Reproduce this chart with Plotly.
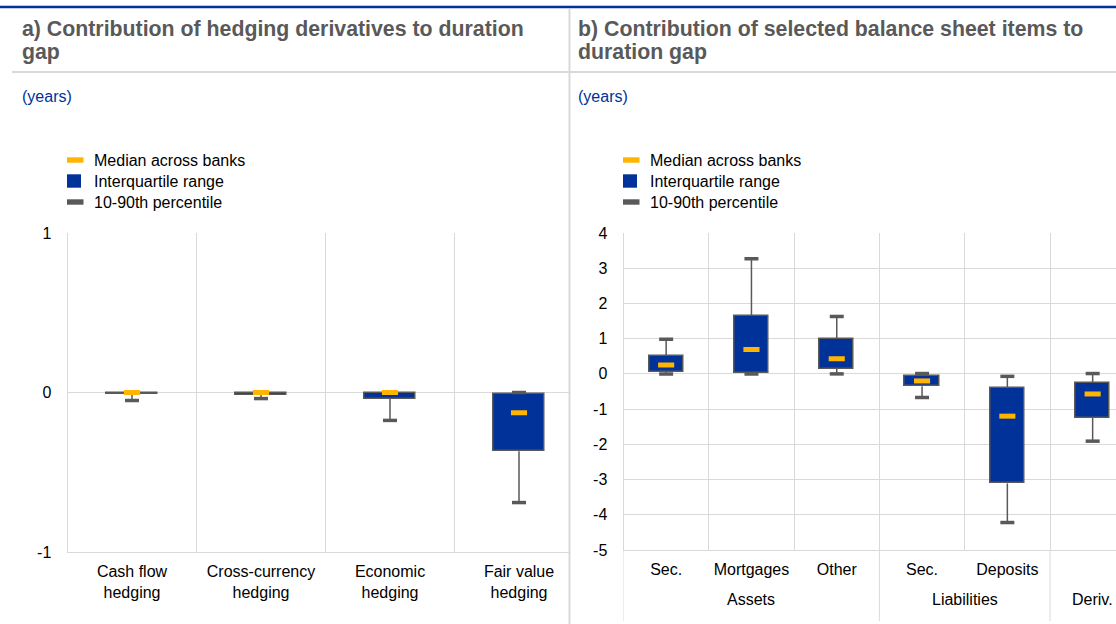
import plotly.graph_objects as go

# ---------------- data ----------------
# Panel a: contribution of hedging derivatives to duration gap (years)
a_categories = ["Cash flow<br>hedging", "Cross-currency<br>hedging", "Economic<br>hedging", "Fair value<br>hedging"]
a_p10 = [-0.05, -0.038, -0.175, -0.69]
a_q1 = [-0.008, -0.013, -0.038, -0.368]
a_median = [0.0, 0.0, 0.0, -0.127]
a_q3 = [0.0, 0.0, 0.0, -0.008]
a_p90 = [0.0, 0.0, 0.0, 0.0]
a_ytick_vals = [-1, 0, 1]
a_ytick_text = ["-1", "0", "1"]

# Panel b: contribution of selected balance sheet items to duration gap (years)
b_groups = ["Assets", "Assets", "Assets", "Liabilities", "Liabilities", "Deriv."]
b_items = ["Sec.", "Mortgages", "Other", "Sec.", "Deposits", ""]
b_p10 = [0.0, 0.0, 0.0, -0.67, -4.22, -1.91]
b_q1 = [0.057, 0.03, 0.14, -0.35, -3.11, -1.25]
b_median = [0.255, 0.69, 0.43, -0.2, -1.2, -0.57]
b_q3 = [0.52, 1.65, 1.0, -0.06, -0.41, -0.26]
b_p90 = [0.98, 3.27, 1.63, 0.01, -0.07, 0.01]
b_ytick_vals = [-5, -4, -3, -2, -1, 0, 1, 2, 3, 4]
b_ytick_text = ["-5", "-4", "-3", "-2", "-1", "0", "1", "2", "3", "4"]

legend_labels = ["Median across banks", "Interquartile range", "10-90th percentile"]

# ---------------- style ----------------
W, H = 1116, 624
BLUE = "#003299"
YELLOW = "#FFB400"
GREY = "#595959"
GRID = "#d9d9d9"
FONT = "Liberation Sans, Arial, sans-serif"


def px_x(px):
    return px / W


def px_y(py):
    return 1 - py / H


fig = go.Figure()


def add_panel(x, p10, q1, med, q3, p90, xa, ya):
    # interquartile box
    fig.add_trace(go.Bar(
        x=x, y=[b - a for a, b in zip(q1, q3)], base=q1, width=0.4,
        marker=dict(color=BLUE, line=dict(color=GREY, width=1.5)),
        xaxis=xa, yaxis=ya, showlegend=False, hoverinfo="skip"))
    # whisker stems (upper: q3 -> p90, lower: p10 -> q1)
    fig.add_trace(go.Scatter(
        x=x, y=q3, mode="markers", marker=dict(size=1, color="rgba(0,0,0,0)"),
        error_y=dict(type="data", symmetric=False,
                     array=[max(b - a, 0) for a, b in zip(q3, p90)],
                     arrayminus=[0] * len(q3), width=0, thickness=1.5, color=GREY),
        xaxis=xa, yaxis=ya, showlegend=False, hoverinfo="skip"))
    fig.add_trace(go.Scatter(
        x=x, y=q1, mode="markers", marker=dict(size=1, color="rgba(0,0,0,0)"),
        error_y=dict(type="data", symmetric=False,
                     array=[0] * len(q1),
                     arrayminus=[max(a - b, 0) for a, b in zip(q1, p10)], width=0, thickness=1.5, color=GREY),
        xaxis=xa, yaxis=ya, showlegend=False, hoverinfo="skip"))
    # whisker caps
    for vals in (p10, p90):
        fig.add_trace(go.Scatter(
            x=x, y=vals, mode="markers",
            marker=dict(symbol="line-ew", size=10, color=GREY, line=dict(color=GREY, width=3.5)),
            xaxis=xa, yaxis=ya, showlegend=False, hoverinfo="skip"))
    # median
    fig.add_trace(go.Scatter(
        x=x, y=med, mode="markers",
        marker=dict(symbol="line-ew", size=11.5, color=YELLOW, line=dict(color=YELLOW, width=5)),
        xaxis=xa, yaxis=ya, showlegend=False, hoverinfo="skip"))


# unique category keys for panel b (items repeat across groups)
b_keys = [g + " / " + (i if i else g) for g, i in zip(b_groups, b_items)]

add_panel(a_categories, a_p10, a_q1, a_median, a_q3, a_p90, "x", "y")
add_panel(b_keys, b_p10, b_q1, b_median, b_q3, b_p90, "x2", "y2")

tickfont = dict(family=FONT, size=16, color="#000000")

# panel geometry (pixels): plot left, clipped right edge, category width
a_left, a_right, a_cw = 67.5, 569.0, 129.0
b_left, b_right, b_cw = 623.5, 1116.0, 85.3

fig.update_layout(
    width=W, height=H,
    margin=dict(l=0, r=0, t=0, b=0, autoexpand=False),
    paper_bgcolor="white", plot_bgcolor="white",
    font=dict(family=FONT, size=16, color="#000000"),
    showlegend=False,
    bargap=0,
    xaxis=dict(
        domain=[px_x(a_left), px_x(a_right)], automargin=False,
        type="category", categoryorder="array", categoryarray=a_categories,
        range=[-0.5, -0.5 + (a_right - a_left) / a_cw],
        tickson="boundaries", showgrid=True, gridcolor=GRID, gridwidth=1,
        ticks="outside", ticklen=10, tickcolor="rgba(0,0,0,0)", ticklabelstandoff=5,
        showline=True, linecolor=GRID, linewidth=1,
        tickfont=tickfont,
        anchor="y"),
    yaxis=dict(
        domain=[px_y(552), px_y(233)], automargin=False,
        range=[-1, 1], tickmode="array", tickvals=a_ytick_vals, ticktext=a_ytick_text,
        showgrid=True, gridcolor=GRID, gridwidth=1,
        zeroline=True, zerolinecolor=GRID, zerolinewidth=1,
        showline=True, linecolor=GRID, linewidth=1,
        ticks="outside", ticklen=12, tickcolor="rgba(0,0,0,0)", tickfont=tickfont,
        anchor="x"),
    xaxis2=dict(
        domain=[px_x(b_left), px_x(b_right)], automargin=False,
        type="category", categoryorder="array", categoryarray=b_keys,
        tickmode="array", tickvals=b_keys, ticktext=b_items,
        range=[-0.5, -0.5 + (b_right - b_left) / b_cw],
        tickson="boundaries", showgrid=True, gridcolor=GRID, gridwidth=1,
        ticks="outside", ticklen=11, tickcolor="rgba(0,0,0,0)", ticklabelstandoff=5,
        showline=True, linecolor=GRID, linewidth=1,
        tickfont=tickfont,
        anchor="y2"),
    yaxis2=dict(
        domain=[px_y(550), px_y(233)], automargin=False,
        range=[-5, 4], tickmode="array", tickvals=b_ytick_vals, ticktext=b_ytick_text,
        showgrid=True, gridcolor=GRID, gridwidth=1,
        zeroline=True, zerolinecolor=GRID, zerolinewidth=1,
        showline=True, linecolor=GRID, linewidth=1,
        ticks="outside", ticklen=12, tickcolor="rgba(0,0,0,0)", tickfont=tickfont,
        anchor="x2"),
)

shapes = []
annotations = []

# frame lines
shapes.append(dict(type="line", xref="paper", yref="paper", x0=px_x(0), x1=1, y0=px_y(7), y1=px_y(7),
                   line=dict(color=BLUE, width=2.5)))
shapes.append(dict(type="line", xref="paper", yref="paper", x0=px_x(12), x1=1, y0=px_y(72), y1=px_y(72),
                   line=dict(color=GRID, width=2)))
shapes.append(dict(type="line", xref="paper", yref="paper", x0=px_x(569.5), x1=px_x(569.5), y0=px_y(9), y1=0,
                   line=dict(color=GRID, width=2)))

# group labels and dividers for panel b, derived from the group list
group_order = []
for g in b_groups:
    if g not in group_order:
        group_order.append(g)
for g in group_order:
    idx = [k for k, gg in enumerate(b_groups) if gg == g]
    centre = (idx[0] + idx[-1]) / 2
    annotations.append(dict(
        text=g, xref="x2", yref="paper", x=centre, y=px_y(599),
        xanchor="center", yanchor="middle", showarrow=False,
        font=dict(family=FONT, size=16, color="#000000")))
    shapes.append(dict(type="line", xref="x2", yref="paper",
                       x0=idx[0] - 0.5, x1=idx[0] - 0.5, y0=px_y(550), y1=px_y(621),
                       line=dict(color=GRID, width=1)))

titles = [
    (22, ["a) Contribution of hedging derivatives to duration", "gap"]),
    (578, ["b) Contribution of selected balance sheet items to", "duration gap"]),
]
for x0, lines in titles:
    for i, line in enumerate(lines):
        annotations.append(dict(
            text="<b>" + line + "</b>", xref="paper", yref="paper",
            x=px_x(x0 - 2), y=px_y(29 + 23 * i), xanchor="left", yanchor="middle",
            showarrow=False, font=dict(family=FONT, size=21.3, color=GREY)))
    annotations.append(dict(
        text="(years)", xref="paper", yref="paper",
        x=px_x(x0 - 2), y=px_y(96), xanchor="left", yanchor="middle",
        showarrow=False, font=dict(family=FONT, size=16, color=BLUE)))

# legends
for lx in (67, 623):
    shapes.append(dict(type="rect", xref="paper", yref="paper",
                       x0=px_x(lx), x1=px_x(lx + 16.5), y0=px_y(162.7), y1=px_y(157.3),
                       fillcolor=YELLOW, line=dict(width=0)))
    shapes.append(dict(type="rect", xref="paper", yref="paper",
                       x0=px_x(lx), x1=px_x(lx + 14), y0=px_y(187.7), y1=px_y(174.3),
                       fillcolor=BLUE, line=dict(width=0)))
    shapes.append(dict(type="rect", xref="paper", yref="paper",
                       x0=px_x(lx), x1=px_x(lx + 16.5), y0=px_y(204.7), y1=px_y(199.3),
                       fillcolor=GREY, line=dict(width=0)))
    for label, ly in zip(legend_labels, (160.5, 181.5, 202.5)):
        annotations.append(dict(
            text=label, xref="paper", yref="paper",
            x=px_x(lx + 25), y=px_y(ly), xanchor="left", yanchor="middle",
            showarrow=False, font=dict(family=FONT, size=16, color="#000000")))

fig.update_layout(shapes=shapes, annotations=annotations)

# remove the default 8px page margin so the figure sits at the window's top-left corner
fig.write_html("out.html", config={"displayModeBar": False},
               post_script="document.body.style.margin='0';")
